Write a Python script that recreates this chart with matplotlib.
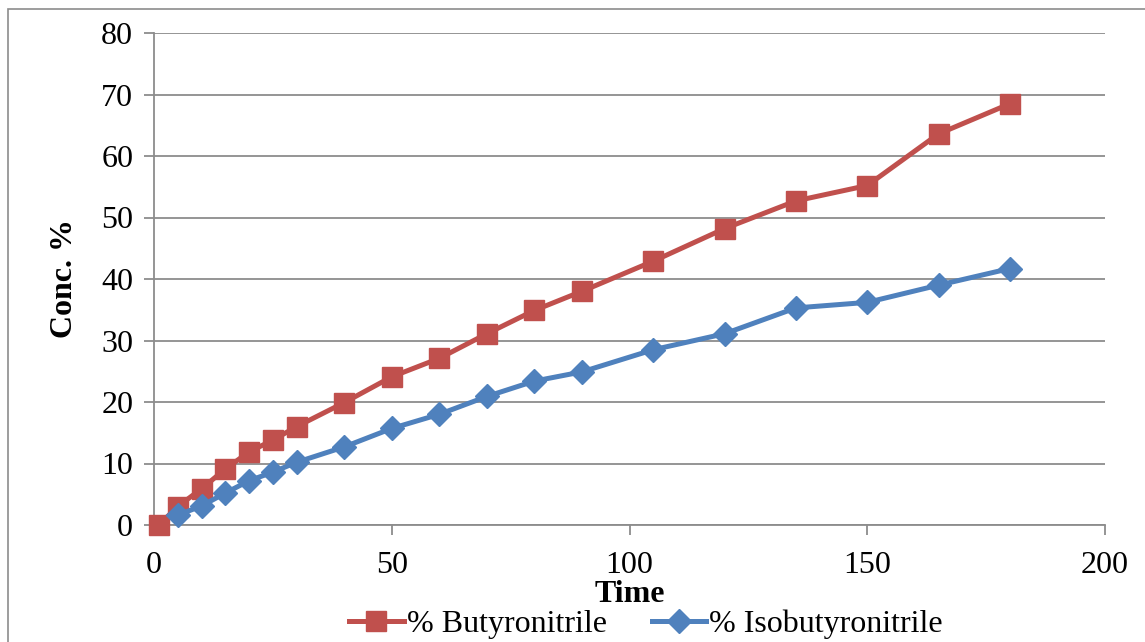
import matplotlib
matplotlib.use("Agg")
import matplotlib.pyplot as plt
from matplotlib.patches import Rectangle
from matplotlib.lines import Line2D

plt.rcParams['font.family'] = ['Liberation Serif', 'DejaVu Serif']

time_buty = [1, 5, 10, 15, 20, 25, 30, 40, 50, 60, 70, 80, 90, 105, 120, 135, 150, 165, 180]
buty = [0.0, 3.0, 5.9, 9.1, 11.9, 13.8, 16.0, 19.9, 24.1, 27.1, 31.1, 34.9, 38.0, 42.9, 48.2, 52.7, 55.2, 63.6, 68.5]

time_iso = [5, 10, 15, 20, 25, 30, 40, 50, 60, 70, 80, 90, 105, 120, 135, 150, 165, 180]
iso = [1.6, 3.1, 5.2, 7.2, 8.6, 10.2, 12.7, 15.7, 18.0, 20.9, 23.4, 24.9, 28.5, 31.1, 35.3, 36.2, 39.0, 41.7]

x_ticks = [0, 50, 100, 150, 200]
y_ticks = [0, 10, 20, 30, 40, 50, 60, 70, 80]

red = '#C0504D'
blue = '#4F81BD'
grid_gray = '#8C8C8C'

W, H = 1145, 642
fig = plt.figure(figsize=(W / 100, H / 100), dpi=100)

# outer chart frame
fig.patches.append(Rectangle((8 / W, -0.1), 1.2, 1 - 9 / H + 0.1, transform=fig.transFigure,
                             fill=False, edgecolor='#8C8C8C', linewidth=1.2))

ax = fig.add_axes([154 / W, 1 - 525 / H, (1105 - 154) / W, (525 - 33) / H])
ax.set_xlim(0, 200)
ax.set_ylim(0, 80)

ax.plot(time_buty, buty, color=red, linewidth=3.6, marker='s', markersize=14.5,
        markeredgecolor=red, label='% Butyronitrile', zorder=3, clip_on=False)
ax.plot(time_iso, iso, color=blue, linewidth=3.6, marker='D', markersize=12,
        markeredgecolor=blue, label='% Isobutyronitrile', zorder=4, clip_on=False)

ax.set_xticks(x_ticks)
ax.set_yticks(y_ticks)
ax.yaxis.grid(True, color=grid_gray, linewidth=1.3)
ax.set_axisbelow(True)
for s in ['top', 'right']:
    ax.spines[s].set_visible(False)
for s in ['left', 'bottom']:
    ax.spines[s].set_color(grid_gray)
    ax.spines[s].set_linewidth(1.3)
ax.tick_params(axis='both', colors=grid_gray, labelcolor='black', labelsize=23,
               length=7, width=1.3, direction='out')
ax.tick_params(axis='x', pad=12)
ax.tick_params(axis='y', pad=8)

ax.set_ylabel('Conc. %', fontsize=23, fontweight='bold', labelpad=16)
fig.text(630 / W, 1 - 595 / H, 'Time', fontsize=23, fontweight='bold', ha='center', va='center')

handles = [Line2D([], [], color=red, linewidth=3.6, marker='s', markersize=14.5),
           Line2D([], [], color=blue, linewidth=3.6, marker='D', markersize=12)]
fig.legend(handles, ['% Butyronitrile', '% Isobutyronitrile'], loc='center',
           bbox_to_anchor=(646 / W, 1 - 624 / H), ncol=2, frameon=False, fontsize=23,
           handlelength=1.7, handletextpad=0.1, columnspacing=1.4, borderpad=0, borderaxespad=0)

fig.savefig('out.png', dpi=100)
